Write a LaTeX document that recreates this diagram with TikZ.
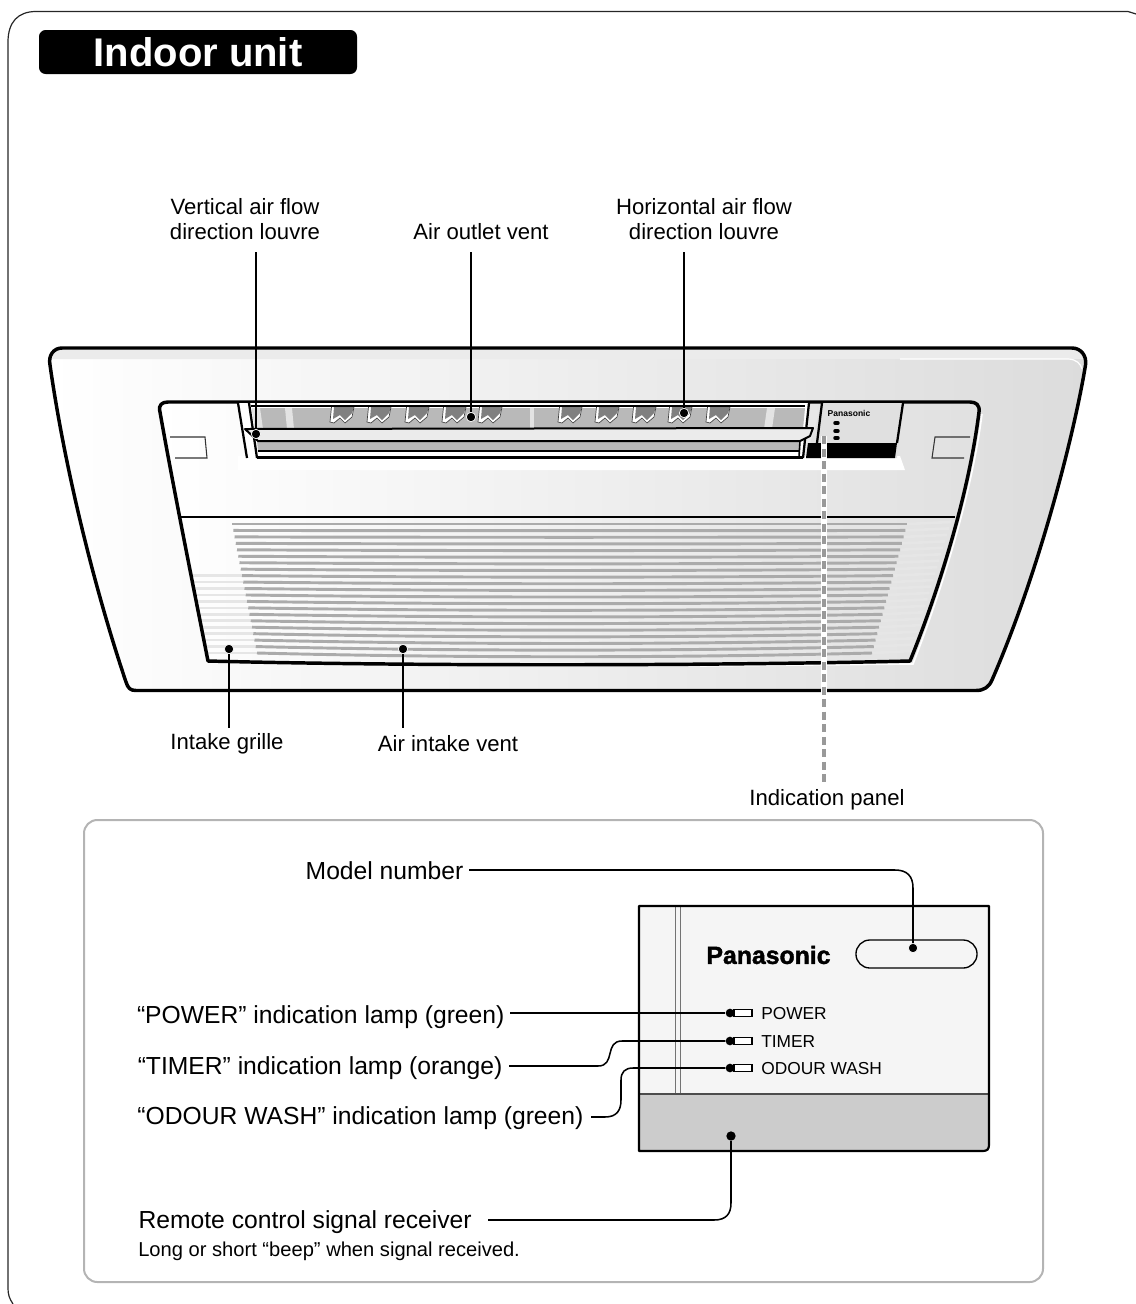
\documentclass[tikz,border=0pt]{standalone}
\usepackage{fontspec}
\setmainfont{Liberation Sans}
\newfontfamily\logofont[BoldFeatures={FakeBold=1.6}]{Liberation Sans}
\usetikzlibrary{calc, positioning}
\definecolor{panelgrey}{HTML}{DCDCDC}
\definecolor{ventgrey}{HTML}{B9B9B9}
\definecolor{fingrey}{HTML}{808080}
\definecolor{slatgrey}{HTML}{ABABAB}
\definecolor{slatlight}{HTML}{E6E6E6}
\definecolor{boxgrey}{HTML}{B4B4B4}
\tikzset{
  lbl/.style={font=\fontsize{16.6}{18.75}\selectfont,align=center,inner sep=4pt},
  biglbl/.style={font=\fontsize{18.5}{21}\selectfont,inner sep=4pt},
  lamptext/.style={font=\fontsize{13}{15}\selectfont,anchor=west,inner sep=0pt},
  dotmark/.style={circle,fill=black,draw=white,line width=0.5pt,minimum size=7pt,inner sep=0pt},
  leader/.style={black,line width=1.15pt},
  heavy/.style={black,line width=2.6pt,line join=round},
  medium/.style={black,line width=1.7pt,line join=round},
  thinline/.style={black!80,line width=0.8pt},
}
\begin{document}
\begin{tikzpicture}[x=0.75pt,y=-0.75pt]
\useasboundingbox (0,0) rectangle (1136,1304);
% frame
\draw[black!85,line width=0.9pt] (13,1304) .. controls (9,1298) and (8,1294) .. (8,1288)
  -- (8,42) .. controls (8,22) and (18,11.5) .. (36,11.5) -- (1128,11.5) -- (1136,14);
\node[rectangle,rounded corners=5pt,fill=black,text=white,minimum width=238.5pt,minimum height=33pt,
  inner sep=0pt,font=\fontsize{30}{32}\selectfont\bfseries] (titleBox) at (198,52) {Indoor unit};
% outer panel
\path[left color=white,middle color=white!55!panelgrey,right color=panelgrey]
  (62,348) -- (1072,348) .. controls (1081,348) and (1087,356) .. (1085.5,365)
  .. controls (1075,430) and (1040,570) .. (992,680) .. controls (989,687) and (984,690.5) .. (976,690.5)
  -- (136,690.5) .. controls (130,690.5) and (128,688) .. (126,682)
  .. controls (95,590) and (65,470) .. (50,365) .. controls (48,355) and (54,348) .. (62,348) -- cycle;
\fill[black!8] (60,349) -- (1074,349) .. controls (1079,350) and (1082,354) .. (1083,359) -- (52,359)
  .. controls (53,353) and (56,350) .. (60,349) -- cycle;
\draw[white,line width=0.9pt] (900,359) -- (1068,359) .. controls (1076,359) and (1081,364) .. (1082,369);
\draw[heavy]
  (62,348) -- (1072,348) .. controls (1081,348) and (1087,356) .. (1085.5,365)
  .. controls (1075,430) and (1040,570) .. (992,680) .. controls (989,687) and (984,690.5) .. (976,690.5)
  -- (136,690.5) .. controls (130,690.5) and (128,688) .. (126,682)
  .. controls (95,590) and (65,470) .. (50,365) .. controls (48,355) and (54,348) .. (62,348) -- cycle;
% inner panel and grille
\path[left color=white,middle color=black!4,right color=black!12]
  (168,402) -- (970,402) .. controls (976,402) and (980,405) .. (979,412)
  .. controls (968,500) and (935,600) .. (910,661) .. controls (700,666) and (400,666) .. (208,661)
  .. controls (190,570) and (172,480) .. (160,412) .. controls (158,405) and (162,402) .. (168,402) -- cycle;
\fill[white] (238,456) -- (900,456) -- (905,470) -- (238,470) -- cycle;
\draw[white,line width=1.2pt] (982,414) .. controls (971,500) and (938,600) .. (913,664) -- (700,666);
% slats
\foreach \i in {0,...,20}{
  \pgfmathsetmacro\yy{524+\i*6.45}
  \pgfmathsetmacro\sag{\i*0.25}
  \pgfmathsetmacro\xl{232+\i*1.25}
  \pgfmathsetmacro\xr{907-\i*1.75}
  \pgfmathsetmacro\xe{951-\i*1.95}
  \draw[slatlight,line width=2pt] (\xr,\yy) -- (\xe,\yy-2);
  \ifnum\i>7
    \pgfmathsetmacro\xs{192+(\i-8)*1.25}
    \draw[slatlight,line width=2pt] (\xs,\yy) -- (\xl,\yy);
  \fi
  \draw[slatgrey,line width=2.2pt] (\xl,\yy) .. controls (\xl+200,\yy+\sag) and (\xr-200,\yy+\sag) .. (\xr,\yy);
}
\draw[heavy]
  (168,402) -- (970,402) .. controls (976,402) and (980,405) .. (979,412)
  .. controls (968,500) and (935,600) .. (910,661) .. controls (700,666) and (400,666) .. (208,661)
  .. controls (190,570) and (172,480) .. (160,412) .. controls (158,405) and (162,402) .. (168,402) -- cycle;
\draw[medium] (179,517) -- (955,517);
% side marks
\draw[thinline] (170,437) -- (205,437) -- (207,458) -- (175,458);
\draw[thinline] (970,437) -- (935,437) -- (932,458) -- (964,458);
% indication panel
\fill[black!12] (822,403) -- (903,403) -- (897,458) -- (806,458) -- cycle;
\fill[black] (808,443) -- (897,443) -- (895,458) -- (806,458) -- cycle;
\draw[medium] (822,403) -- (817,443);
\draw[medium] (903,403) -- (897,443);
\node[font=\fontsize{6.4}{8}\selectfont\bfseries,inner sep=0pt] (smallLogo) at (849,413) {Panasonic};
\foreach \yy in {423,431,438}
  \draw[black,line width=2.6pt,line cap=round] (835,\yy) -- (838,\yy);
% air outlet
\fill[white] (238,403) -- (809,403) -- (803,458) -- (247,458) -- cycle;
\fill[ventgrey] (252,408) -- (805,408) -- (803,429) -- (255,429) -- cycle;
\fill[white!60!ventgrey] (252,408) -- (260,408) -- (263,429) -- (255,429) -- cycle;
\fill[white!60!ventgrey] (285,408) -- (292,408) -- (294,429) -- (287,429) -- cycle;
\fill[white!60!ventgrey] (530,408) -- (534,408) -- (534,429) -- (530,429) -- cycle;
\fill[white!60!ventgrey] (767,408) -- (775,408) -- (772,429) -- (764,429) -- cycle;
\draw[medium] (238,403) -- (247,458);
\draw[medium] (249,403) -- (257,458);
\draw[black,line width=1.1pt] (251,406) -- (805,406);
\draw[medium] (809,403) -- (803,458);
% fins
\foreach \fx in {330,367,405,442,478,558,595,632,668,706}{
  \fill[white] (\fx+1.5,407) -- (\fx,422) -- (\fx+4,423) -- (\fx+10,418) -- (\fx+15,423) -- (\fx+22,417) -- (\fx+24,407) -- cycle;
  \fill[fingrey] (\fx+4,407) -- (\fx+3,419) -- (\fx+10,415) -- (\fx+15,420) -- (\fx+22,413) -- (\fx+24,407) -- cycle;
  \draw[black!75,line width=0.5pt] (\fx+1.5,407) -- (\fx,422) -- (\fx+4,423) -- (\fx+10,418) -- (\fx+15,423) -- (\fx+22,417) -- (\fx+24,407);
}
% horizontal louvre
\fill[ventgrey] (257,441) -- (800,441) -- (800,451) -- (258,451) -- cycle;
\draw[black,line width=1.5pt,line join=round,fill=black!8] (245,429) -- (813,428) -- (810,436) -- (800,441)
  -- (258,441) -- cycle;
\draw[medium] (258,451) -- (800,451);
\draw[medium] (257,457.5) -- (803,457.5);
\draw[black,line width=1.2pt] (800,441) -- (799,457);
% callouts on the unit
\node[dotmark] (vlouvreDot) at (256,434) {};
\node[dotmark] (outletDot) at (471,417) {};
\node[dotmark] (hlouvreDot) at (684,413) {};
\node[dotmark] (grilleDot) at (229,649) {};
\node[dotmark] (intakeDot) at (403,649) {};
\coordinate (panelEnd) at (824,436);
\node[lbl] (vlouvreLabel) at (245,219) {Vertical air flow\\direction louvre};
\node[lbl] (outletLabel) at (481,232) {Air outlet vent};
\node[lbl] (hlouvreLabel) at (704,219) {Horizontal air flow\\direction louvre};
\node[lbl] (grilleLabel) at (227,744) {Intake grille};
\node[lbl] (intakeLabel) at (448,744) {Air intake vent};
\node[lbl] (panelLabel) at (827,800) {Indication panel};
\draw[leader,shorten >=5pt] (vlouvreDot) -- (vlouvreDot |- vlouvreLabel.south);
\draw[leader,shorten >=5pt] (outletDot) -- (outletDot |- outletLabel.south);
\draw[leader,shorten >=5pt] (hlouvreDot) -- (hlouvreDot |- hlouvreLabel.south);
\draw[leader] (grilleDot) -- (grilleDot |- grilleLabel.north);
\draw[leader,shorten >=2pt] (intakeDot) -- (intakeDot |- intakeLabel.north);
\draw[white,line width=4pt] (panelEnd) -- (panelEnd |- panelLabel.north);
\draw[black!40,line width=2.4pt,dash pattern=on 6pt off 3.4pt] (panelEnd) -- (panelEnd |- panelLabel.north);
% detail box
\draw[boxgrey,line width=1.5pt,rounded corners=10pt] (84,820) rectangle (1043,1282);
\fill[black!4] (639,906) rectangle (989,1094);
\fill[black!20] (639,1094) rectangle (989,1151);
\draw[black!55,line width=0.8pt] (675.5,906) -- (675.5,1094);
\draw[black!55,line width=0.8pt] (680.5,906) -- (680.5,1094);
\draw[black!70,line width=1pt] (639,1094) -- (989,1094);
\draw[black,line width=1.6pt,line join=round] (639,906) -- (989,906) -- (989,1145)
  .. controls (989,1149) and (987,1151) .. (983,1151) -- (639,1151) -- cycle;
\node[font=\fontsize{18.6}{20}\selectfont\logofont\bfseries,inner sep=0pt] (bigLogo) at (768.5,955) {Panasonic};
\node[draw=black,line width=1pt,rectangle,rounded corners=10.4pt,minimum width=90.8pt,minimum height=21pt,inner sep=0pt]
  (modelOval) at (916.5,954) {};
% lamps
\foreach \yy/\lampname/\lamptxt in {1013/power/POWER,1041/timer/TIMER,1068/odour/ODOUR WASH}{
  \draw[black,line width=0.9pt,fill=white] (734,\yy-3.5) rectangle (752,\yy+3.5);
  \node[dotmark,draw=none,minimum size=6.5pt] (\lampname Dot) at (730,\yy) {};
  \node[lamptext] (\lampname Text) at (761,\yy+1) {\lamptxt};
}
\node[dotmark] (modelDot) at (913,948) {};
\node[dotmark,draw=none] (receiverDot) at (731,1136) {};
\node[biglbl,anchor=east] (modelLabel) at (469,871) {Model number};
\node[biglbl,anchor=east] (powerLabel) at (510,1017) {“POWER” indication lamp (green)};
\node[biglbl,anchor=east] (timerLabel) at (508,1068) {“TIMER” indication lamp (orange)};
\node[biglbl,anchor=east] (odourLabel) at (589,1118) {“ODOUR WASH” indication lamp (green)};
\node[biglbl,anchor=west] (receiverLabel) at (133,1222) {Remote control signal receiver};
\node[font=\fontsize{15.1}{17}\selectfont,anchor=west,inner sep=0pt] (beepNote) at (138,1251) {Long or short “beep” when signal received.};
\coordinate (modelStart) at (469,870);
\coordinate (timerStart) at (509,1066);
\coordinate (odourStart) at (591,1117);
\coordinate (receiverStart) at (488,1220);
\draw[leader] (modelStart) -- (895,870) .. controls (907,870) and (913,876) .. (913,888) -- (modelDot);
\draw[leader] (powerLabel.east |- powerDot) -- (powerDot);
\draw[leader] (timerStart) -- (598,1066) .. controls (616,1066) and (604,1041) .. (622,1041) -- (timerDot);
\draw[leader] (odourStart) -- (605,1117) .. controls (617,1117) and (621,1110) .. (621,1100)
  -- (621,1080) .. controls (621,1072) and (625,1068) .. (633,1068) -- (odourDot);
\draw[leader] (receiverStart) -- (714,1220) .. controls (726,1220) and (731,1214) .. (731,1203) -- (receiverDot);
\end{tikzpicture}
\end{document}
